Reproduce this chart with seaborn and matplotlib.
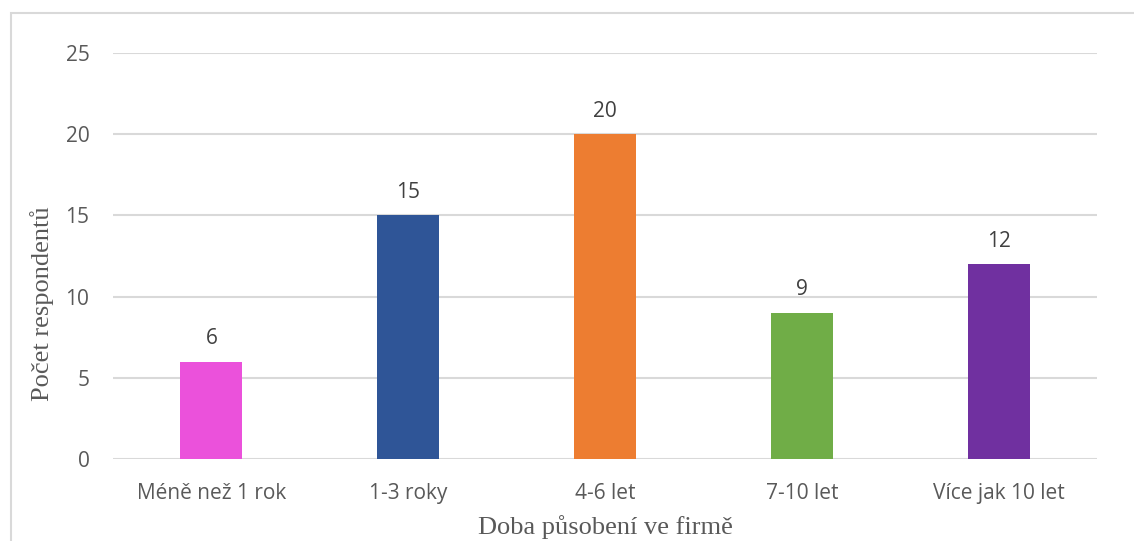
import matplotlib
matplotlib.use("Agg")
import matplotlib.pyplot as plt
from matplotlib.patches import Rectangle
import seaborn as sns
import pandas as pd

categories = ["Méně než 1 rok", "1-3 roky", "4-6 let", "7-10 let", "Více jak 10 let"]
counts = [6, 15, 20, 9, 12]
bar_colors = ["#EB51DB", "#2F5597", "#ED7D31", "#70AD47", "#7030A0"]
y_ticks = [0, 5, 10, 15, 20, 25]

df = pd.DataFrame({"doba": categories, "pocet": counts})

sns.set_theme(style="white")
plt.rcParams["font.family"] = ["Open Sans", "DejaVu Sans"]

fig = plt.figure(figsize=(11.34, 5.41), dpi=100)
ax = fig.add_axes([113 / 1134, 82 / 541, (1097 - 113) / 1134, (459 - 53) / 541])

sns.barplot(data=df, x="doba", y="pocet", hue="doba", palette=bar_colors,
            width=0.315, legend=False, saturation=1, linewidth=0,
            ax=ax, zorder=3)

ax.set_ylim(0, 25)
ax.set_yticks(y_ticks)
ax.set_xlim(-0.5, len(categories) - 0.5)
ax.grid(axis="y", color="#d9d9d9", linewidth=1.5, zorder=0)
ax.set_axisbelow(True)
for s in ax.spines.values():
    s.set_visible(False)

ax.tick_params(axis="both", length=0, colors="#595959", labelsize=15)
ax.tick_params(axis="x", pad=17)
ax.tick_params(axis="y", pad=17)

for c in ax.containers:
    ax.bar_label(c, fmt="{:.0f}", padding=9, fontsize=15, color="#404040")

ax.set_xlabel("Doba působení ve firmě", family="Liberation Serif",
              fontsize=19, color="#595959", va="center")
ax.xaxis.set_label_coords(0.5, (459 - 527) / 406)
ax.set_ylabel("Počet respondentů", family="Liberation Serif",
              fontsize=19, color="#595959", va="center")
ax.yaxis.set_label_coords((42 - 113) / 984, (459 - 304) / 406)

# chart frame
fig.patches.append(Rectangle((11 / 1134, -0.1), 1.2, (541 - 13) / 541 + 0.1,
                             transform=fig.transFigure, fill=False,
                             edgecolor="#d9d9d9", linewidth=1.5, zorder=0))

fig.savefig("out.png", dpi=100)
